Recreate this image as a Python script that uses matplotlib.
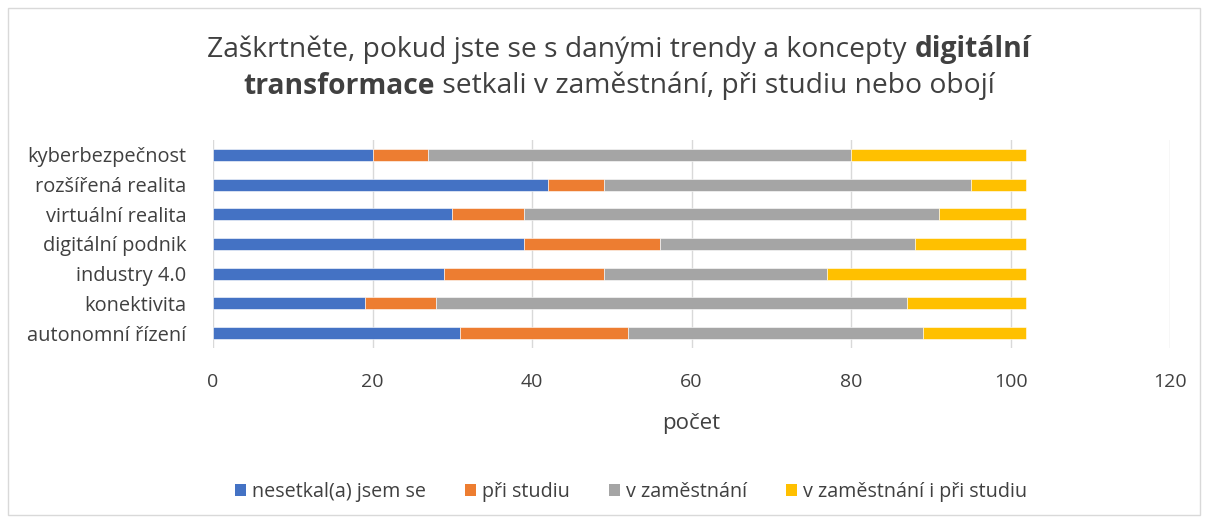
import matplotlib
matplotlib.use("Agg")
import matplotlib.pyplot as plt
from matplotlib.patches import Rectangle, Patch
import numpy as np

plt.rcParams['font.family'] = ['Open Sans', 'DejaVu Sans']

categories = ["autonomní řízení", "konektivita", "industry 4.0", "digitální podnik",
              "virtuální realita", "rozšířená realita", "kyberbezpečnost"]
series_names = ["nesetkal(a) jsem se", "při studiu", "v zaměstnání", "v zaměstnání i při studiu"]
nesetkal = [31, 19, 29, 39, 30, 42, 20]
pri_studiu = [21, 9, 20, 17, 9, 7, 7]
v_zamestnani = [37, 59, 28, 32, 52, 46, 53]
oboji = [13, 15, 25, 14, 11, 7, 22]
x_ticks = [0, 20, 40, 60, 80, 100, 120]
colors = ["#4472C4", "#ED7D31", "#A5A5A5", "#FFC000"]

W, H = 1208, 523
fig = plt.figure(figsize=(W/100, H/100), dpi=100)
fig.patches.append(Rectangle((8/W, 8/H), 1192/W, 507/H, transform=fig.transFigure,
                             fill=False, edgecolor="#d9d9d9", linewidth=1))

ax = fig.add_axes([213/W, 1-348/H, (1170-213)/W, (348-140)/H])
y = np.arange(len(categories))
left = np.zeros(len(categories))
handles = []
for vals, c, name in zip([nesetkal, pri_studiu, v_zamestnani, oboji], colors, series_names):
    ax.barh(y, vals, left=left, height=0.4, color=c, edgecolor="white", linewidth=0.4, zorder=3)
    left += np.array(vals)
    handles.append(Patch(facecolor=c, label=name))

ax.set_xlim(0, 120)
ax.set_ylim(-0.5, len(categories)-0.5)
ax.set_xticks(x_ticks)
ax.set_xticklabels([str(t) for t in x_ticks])
ax.set_yticks(y)
ax.set_yticklabels(categories)
ax.grid(axis="x", color="#d9d9d9", linewidth=1, zorder=0)
for s in ax.spines.values():
    s.set_visible(False)
ax.tick_params(axis="both", length=0, colors="#404040")
ax.tick_params(axis="y", labelsize=14.4, pad=19)
ax.tick_params(axis="x", labelsize=14, pad=18)
ax.set_xlabel("počet", fontsize=16, color="#404040", labelpad=16)

# Title with mixed bold
fig.canvas.draw()
renderer = fig.canvas.get_renderer()
tsize = 20.3
tcolor = "#404040"
lines = [
    [("Zaškrtněte, pokud jste se s danými trendy a koncepty ", "normal"), ("digitální", "bold")],
    [("transformace", "bold"), (" setkali v zaměstnání, při studiu nebo obojí", "normal")],
]
ys = [1-50/H, 1-86/H]
cx = 619/W
for parts, yy in zip(lines, ys):
    texts = []
    for s, wt in parts:
        t = fig.text(0, yy, s, fontsize=tsize, fontweight=wt, color=tcolor, va="center", ha="left")
        texts.append(t)
    fig.canvas.draw()
    widths = [t.get_window_extent(renderer).width for t in texts]
    total = sum(widths)
    xpix = cx*W - total/2
    for t, w in zip(texts, widths):
        t.set_x(xpix/W)
        xpix += w

fig.legend(handles=handles, loc="center", bbox_to_anchor=(631/W, 1-492/H), ncol=4,
           frameon=False, fontsize=14.2, handlelength=0.55, handleheight=0.55,
           handletextpad=0.3, columnspacing=2.0, labelcolor="#404040")

fig.savefig("out.png", dpi=100)
